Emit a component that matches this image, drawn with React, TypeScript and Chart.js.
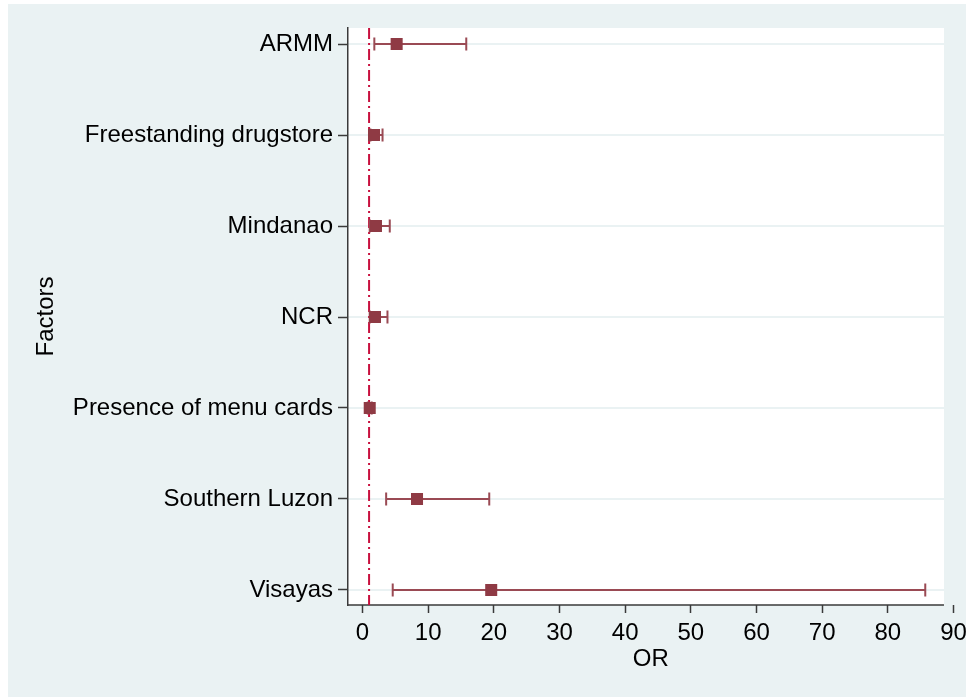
import React, { useEffect, useRef } from "react";
import { Chart, registerables } from "chart.js";

Chart.register(...registerables);

const CATEGORIES = [
  "ARMM",
  "Freestanding drugstore",
  "Mindanao",
  "NCR",
  "Presence of menu cards",
  "Southern Luzon",
  "Visayas",
];
const OR_VALUES = [5.2, 1.75, 2.05, 1.9, 1.1, 8.3, 19.6];
const CI_LOW = [1.8, 1.2, 1.1, 1.1, 0.8, 3.6, 4.6];
const CI_HIGH = [15.8, 3.05, 4.15, 3.8, 1.4, 19.3, 85.7];
const X_TICKS = [0, 10, 20, 30, 40, 50, 60, 70, 80, 90];
const REF_OR = 1;

const X_MIN = -2.21;
const X_MAX = 90;
const PLOT_X_MAX = 88.55;
const Y_MIN = 0.824;
const Y_MAX = 7.165;

const BG = "#eaf2f3";
const GRID = "#eaf2f3";
const AXIS = "#3a3a3a";
const MARKER = "#8f3a44";
const BAR = "#9a4a54";
const REF = "#c8103e";
const FONT = "'Liberation Sans', Arial, Helvetica, sans-serif";

const drawPlugin = {
  id: "stataLook",
  beforeDraw(chart: any) {
    const { ctx, chartArea: ca, scales } = chart;
    const x = scales.x;
    const y = scales.y;
    const right = x.getPixelForValue(PLOT_X_MAX);
    ctx.save();
    ctx.fillStyle = BG;
    ctx.fillRect(0, 0, chart.width, chart.height);
    ctx.fillStyle = "#ffffff";
    ctx.fillRect(ca.left, ca.top, right - ca.left, ca.bottom - ca.top);
    ctx.strokeStyle = GRID;
    ctx.lineWidth = 2;
    CATEGORIES.forEach((_, i) => {
      const py = y.getPixelForValue(i + 1);
      ctx.beginPath();
      ctx.moveTo(ca.left, py);
      ctx.lineTo(right, py);
      ctx.stroke();
    });
    ctx.strokeStyle = AXIS;
    ctx.lineWidth = 1.5;
    ctx.beginPath();
    ctx.moveTo(ca.left, ca.bottom);
    ctx.lineTo(right, ca.bottom);
    ctx.stroke();
    ctx.restore();
  },
  beforeDatasetsDraw(chart: any) {
    const { ctx, chartArea: ca, scales } = chart;
    const x = scales.x;
    const y = scales.y;
    ctx.save();
    // reference line
    const rx = x.getPixelForValue(REF_OR);
    ctx.strokeStyle = REF;
    ctx.lineWidth = 2;
    ctx.setLineDash([11, 4, 2, 4]);
    ctx.beginPath();
    ctx.moveTo(rx, ca.top);
    ctx.lineTo(rx, ca.bottom);
    ctx.stroke();
    ctx.setLineDash([]);
    // error bars
    ctx.strokeStyle = BAR;
    ctx.lineWidth = 2;
    CATEGORIES.forEach((_, i) => {
      const py = y.getPixelForValue(i + 1);
      const lo = x.getPixelForValue(CI_LOW[i]);
      const hi = x.getPixelForValue(CI_HIGH[i]);
      ctx.beginPath();
      ctx.moveTo(lo, py);
      ctx.lineTo(hi, py);
      ctx.moveTo(lo, py - 6.5);
      ctx.lineTo(lo, py + 6.5);
      ctx.moveTo(hi, py - 6.5);
      ctx.lineTo(hi, py + 6.5);
      ctx.stroke();
    });
    ctx.restore();
  },
};

export default function App() {
  const ref = useRef<HTMLCanvasElement>(null);

  useEffect(() => {
    if (!ref.current) return;
    const chart = new Chart(ref.current, {
      type: "scatter",
      data: {
        datasets: [
          {
            data: CATEGORIES.map((_, i) => ({ x: OR_VALUES[i], y: i + 1 })),
            pointStyle: "rect",
            pointRadius: 8.5,
            pointHoverRadius: 8.5,
            backgroundColor: MARKER,
            borderWidth: 0,
          },
        ],
      },
      options: {
        responsive: false,
        animation: false,
        layout: { padding: { left: 0, top: 24, right: 12.5, bottom: 0 } },
        plugins: { legend: { display: false }, tooltip: { enabled: false } },
        scales: {
          x: {
            type: "linear",
            min: X_MIN,
            max: X_MAX,
            afterBuildTicks: (s: any) => {
              s.ticks = X_TICKS.map((v) => ({ value: v }));
            },
            afterFit: (s: any) => {
              s.height = 92;
              s.paddingLeft = 0;
              s.paddingRight = 0;
            },
            border: { display: false },
            grid: {
              drawOnChartArea: false,
              drawTicks: true,
              tickLength: 8,
              tickColor: AXIS,
              tickWidth: 1.5,
            },
            ticks: {
              color: "#000",
              font: { family: FONT, size: 24 },
              padding: 6,
              maxRotation: 0,
              autoSkip: false,
              callback: (v: any) => String(v),
            },
            title: {
              display: true,
              text: "OR",
              color: "#000",
              font: { family: FONT, size: 24 },
              padding: { top: 0, bottom: 23 },
            },
          },
          y: {
            type: "linear",
            reverse: true,
            min: Y_MIN,
            max: Y_MAX,
            afterBuildTicks: (s: any) => {
              s.ticks = CATEGORIES.map((_, i) => ({ value: i + 1 }));
            },
            afterFit: (s: any) => {
              s.width = 340;
              s.paddingTop = 0;
              s.paddingBottom = 0;
            },
            border: { display: true, color: AXIS, width: 1.5 },
            grid: {
              drawOnChartArea: false,
              drawTicks: true,
              tickLength: 10,
              tickColor: AXIS,
              tickWidth: 1.5,
            },
            ticks: {
              color: "#000",
              font: { family: FONT, size: 24 },
              padding: 5,
              autoSkip: false,
              callback: (v: any) => CATEGORIES[Math.round(v) - 1] ?? "",
            },
            title: {
              display: true,
              text: "Factors",
              color: "#000",
              font: { family: FONT, size: 24 },
              padding: { top: 24, bottom: 0 },
            },
          },
        },
      },
      plugins: [drawPlugin],
    });
    return () => chart.destroy();
  }, []);

  return (
    <div style={{ position: "absolute", left: 8, top: 4, width: 958, height: 693 }}>
      <canvas ref={ref} width={958} height={693} style={{ display: "block" }} />
    </div>
  );
}
